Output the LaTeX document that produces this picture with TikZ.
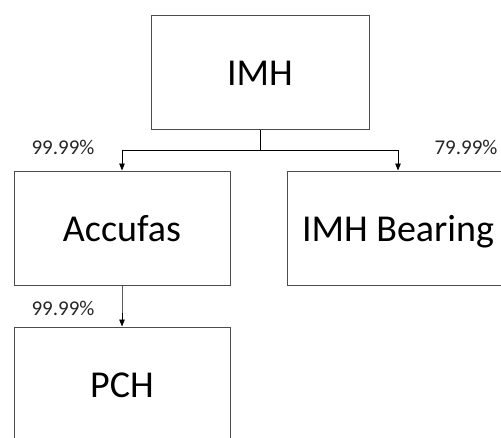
\documentclass[tikz,border=0pt]{standalone}
\usepackage{fontspec}
\setmainfont{Carlito}
\usepackage{tikz}
\usetikzlibrary{trees,arrows.meta}

\begin{document}
\begin{tikzpicture}[x=1pt, y=1pt, level distance=156pt, sibling distance=276pt,
  edge from parent/.style={draw, black, line width=0.8pt, -{Triangle[length=7pt, width=5.5pt]}},
  edge from parent path={(\tikzparentnode.south) -- ++(0,-21pt) -| (\tikzchildnode.north)}]
\useasboundingbox (0,0) rectangle (501,-437);
\clip (0,0) rectangle (501,-437);
\tikzset{entity/.style = {draw = black!70, line width = 1pt, shape = rectangle, inner sep = 0pt,
  minimum width = 216pt, minimum height = 114pt, text height = 27pt, text depth = 0pt,
  font = \fontsize{38}{42}\selectfont},
  pct/.style = {font = \fontsize{21}{24}\selectfont, text = black!85, inner sep = 0pt}}
\node[entity, minimum width = 218pt] (10) at (260,-72) {IMH}
child {node[entity] (11) {Accufas}
child {node[entity] (13) {PCH}
}}
child {node[entity, minimum width = 222pt] (12) {IMH Bearing}
};
\node[pct] (20) at ([xshift=-59pt, yshift=23.5pt]11.north) {99.99\%};
\node[pct] (21) at ([xshift=68pt, yshift=23.5pt]12.north) {79.99\%};
\node[pct] (22) at ([xshift=-59pt, yshift=-23pt]11.south) {99.99\%};
\end{tikzpicture}
\end{document}
